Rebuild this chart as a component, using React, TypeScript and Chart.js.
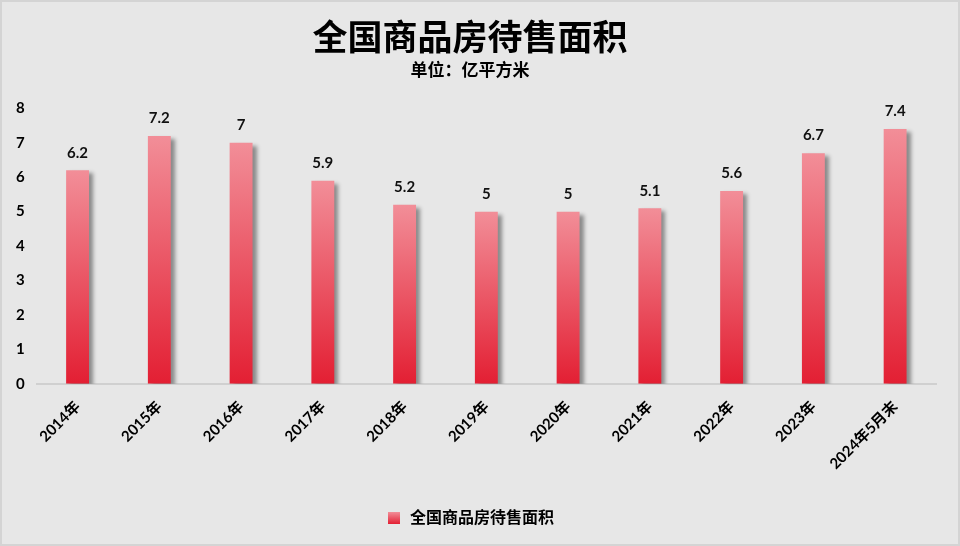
import React, { useEffect, useRef } from "react";
import { Chart, registerables } from "chart.js";

Chart.register(...registerables);

const categories = ["2014年", "2015年", "2016年", "2017年", "2018年", "2019年", "2020年", "2021年", "2022年", "2023年", "2024年5月末"];
const values = [6.2, 7.2, 7, 5.9, 5.2, 5, 5, 5.1, 5.6, 6.7, 7.4];
const seriesName = "全国商品房待售面积";
const titleText = "全国商品房待售面积";
const subtitleText = "单位：亿平方米";

const FONT = "Lato, 'Noto Sans CJK SC', sans-serif";
const TOP_COLOR = "#f28e98";
const BOTTOM_COLOR = "#e31f33";

const shadowPlugin = {
  id: "barShadow",
  beforeDatasetsDraw(chart: any) {
    const ctx = chart.ctx;
    ctx.save();
    ctx.shadowColor = "rgba(0,0,0,0.4)";
    ctx.shadowBlur = 4;
    ctx.shadowOffsetX = 4;
    ctx.shadowOffsetY = 3;
  },
  afterDatasetsDraw(chart: any) {
    chart.ctx.restore();
  },
};

const labelPlugin = {
  id: "valueLabels",
  afterDraw(chart: any) {
    const ctx = chart.ctx;
    const meta = chart.getDatasetMeta(0);
    ctx.save();
    ctx.font = `bold 15px ${FONT}`;
    ctx.fillStyle = "#111";
    ctx.textAlign = "center";
    ctx.textBaseline = "bottom";
    meta.data.forEach((bar: any, i: number) => {
      ctx.fillText(String(values[i]), bar.x, bar.y - 10);
    });
    ctx.restore();
  },
};

function makeLegendIcon() {
  const c = document.createElement("canvas");
  c.width = 12;
  c.height = 12;
  const g = c.getContext("2d")!;
  const grad = g.createLinearGradient(0, 0, 0, 12);
  grad.addColorStop(0, TOP_COLOR);
  grad.addColorStop(1, BOTTOM_COLOR);
  g.fillStyle = grad;
  g.fillRect(0, 0, 12, 12);
  return c;
}

export default function App() {
  const ref = useRef<HTMLCanvasElement>(null);
  useEffect(() => {
    document.body.style.margin = "0";
    const icon = makeLegendIcon();
    const chart = new Chart(ref.current!, {
      type: "bar",
      data: {
        labels: categories,
        datasets: [
          {
            label: seriesName,
            data: values,
            backgroundColor: (context: any) => {
              const ch = context.chart;
              const y = ch.scales && ch.scales.y;
              if (!y || context.dataIndex === undefined || context.type !== "data") return BOTTOM_COLOR;
              const top = y.getPixelForValue(values[context.dataIndex]);
              const bottom = y.getPixelForValue(0);
              if (!isFinite(top) || !isFinite(bottom) || top === bottom) return BOTTOM_COLOR;
              const grad = ch.ctx.createLinearGradient(0, top, 0, bottom);
              grad.addColorStop(0, TOP_COLOR);
              grad.addColorStop(1, BOTTOM_COLOR);
              return grad;
            },
            borderWidth: 0,
            categoryPercentage: 1,
            barPercentage: 0.28,
          },
        ],
      },
      options: {
        animation: false,
        responsive: true,
        maintainAspectRatio: false,
        layout: { padding: { top: 12, left: 2, right: 22, bottom: 8 } },
        plugins: {
          title: {
            display: true,
            text: titleText,
            color: "#000",
            font: { family: FONT, size: 35, weight: "bold" },
            padding: { top: 4, bottom: 0 },
          },
          subtitle: {
            display: true,
            text: subtitleText,
            color: "#000",
            font: { family: FONT, size: 17, weight: "bold" },
            padding: { top: 0, bottom: 28 },
          },
          legend: {
            position: "bottom",
            labels: {
              usePointStyle: true,
              pointStyle: icon as any,
              color: "#000",
              font: { family: FONT, size: 16, weight: "bold" },
              padding: 23,
            },
          },
          tooltip: { enabled: false },
        },
        scales: {
          x: {
            grid: { display: false, drawTicks: false },
            border: { display: true, color: "#d0d0d0", width: 2 },
            ticks: {
              color: "#000",
              font: { family: FONT, size: 15, weight: "bold" },
              maxRotation: 45,
              minRotation: 45,
              padding: 14,
              autoSkip: false,
            },
          },
          y: {
            min: 0,
            max: 8,
            grid: { display: false, drawTicks: false },
            border: { display: false },
            ticks: {
              stepSize: 1,
              color: "#000",
              font: { family: FONT, size: 15, weight: "bold" },
              padding: 12,
            },
          },
        },
      },
      plugins: [shadowPlugin, labelPlugin],
    } as any);
    return () => chart.destroy();
  }, []);
  return (
    <div
      style={{
        position: "fixed",
        left: 0,
        top: 0,
        width: 960,
        height: 546,
        boxSizing: "border-box",
        background: "#e7e7e7",
        border: "2px solid #d4d4d4",
      }}
    >
      <canvas ref={ref} />
    </div>
  );
}
